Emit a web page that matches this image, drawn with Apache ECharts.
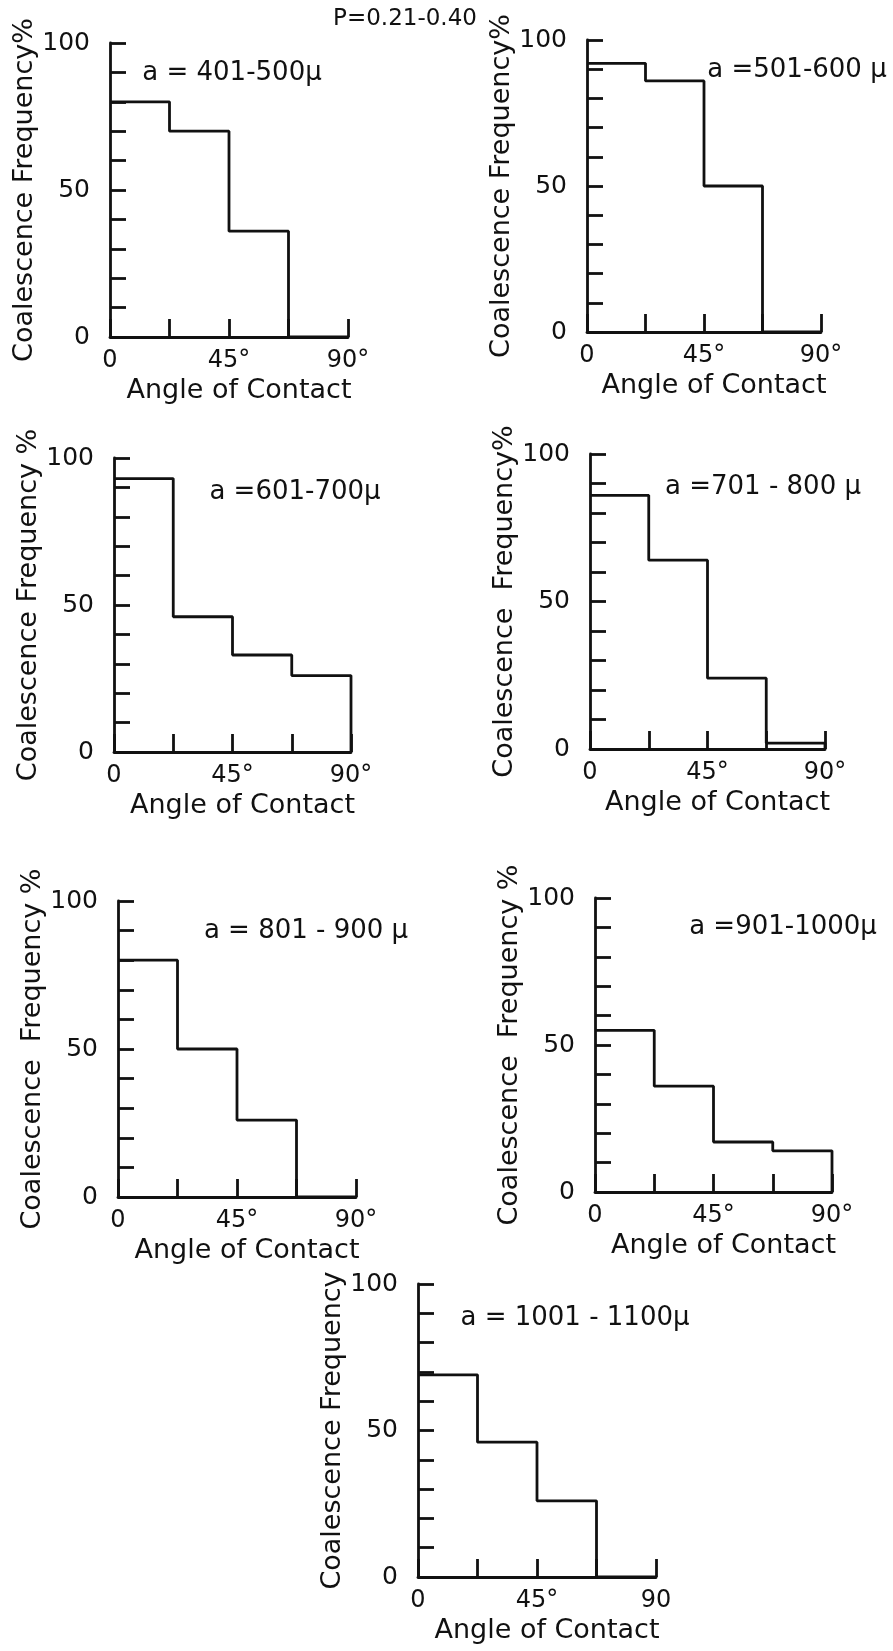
<!DOCTYPE html>
<html>
<head>
<meta charset="utf-8">
<script src="https://cdn.jsdelivr.net/npm/echarts@6/dist/echarts.min.js"></script>
<style>
  html, body { margin: 0; padding: 0; background: #fff; }
  #chart { width: 893px; height: 1651px; }
</style>
</head>
<body>
<div id="chart"></div>
<script>
// Coalescence frequency vs angle of contact, P = 0.21-0.40
const binEdges = [0, 22.5, 45, 67.5, 90]
const yTickLabels = { 0: '0', 50: '50', 100: '100' }
const xTickLabels = { 0: '0', 45: '45°', 90: '90°' }
const xTickLabelsLast = { 0: '0', 45: '45°', 90: '90' }

const sizeRanges = [
  'a = 401-500μ',
  'a =501-600 μ',
  'a =601-700μ',
  'a =701 - 800 μ',
  'a = 801 - 900 μ',
  'a =901-1000μ',
  'a = 1001 - 1100μ'
]
const yNames = [
  'Coalescence Frequency%',
  'Coalescence Frequency%',
  'Coalescence Frequency %',
  'Coalescence  Frequency%',
  'Coalescence  Frequency %',
  'Coalescence  Frequency %',
  'Coalescence Frequency'
]

// frequency (%) in each 22.5° bin
const freq401 = [80, 70, 36, 0]
const freq501 = [92, 86, 50, 0]
const freq601 = [93, 46, 33, 26]
const freq701 = [86, 64, 24, 2]
const freq801 = [80, 50, 26, 0]
const freq901 = [55, 36, 17, 14]
const freq1001 = [69, 46, 26, 0]

const allFreq = [freq401, freq501, freq601, freq701, freq801, freq901, freq1001]

// panel boxes (pixels): left, top, width, height
const boxes = [
  [110, 43, 238, 294],
  [587, 40, 234, 292],
  [114, 458, 237, 294],
  [590, 454, 235, 295],
  [118, 901, 238, 296],
  [595, 898, 237, 294],
  [418, 1284, 238, 293]
]
const nameGaps = [67, 71, 64, 65, 65, 39, 38]
const notePos = [[232, 73], [797, 70], [295, 492], [763, 487], [306, 931], [783, 927], [575, 1318]]

const font = 'DejaVu Sans'
const ink = '#111'

// turn bin values into a step outline
function stepData(vals) {
  const pts = vals.map((v, i) => [binEdges[i], v])
  pts.push([binEdges[binEdges.length - 1], 0])
  return pts
}

const grid = [], xAxis = [], yAxis = [], series = [], graphic = []

boxes.forEach((b, i) => {
  grid.push({ left: b[0], top: b[1], width: b[2], height: b[3] })
  const xl = i === 6 ? xTickLabelsLast : xTickLabels
  xAxis.push({
    gridIndex: i,
    type: 'value',
    min: 0,
    max: 90,
    interval: 22.5,
    name: 'Angle of Contact',
    nameLocation: 'middle',
    nameGap: 40,
    nameTextStyle: { fontFamily: font, fontSize: 27, color: ink, padding: [0, 0, 0, 20] },
    axisLine: { show: true, lineStyle: { color: ink, width: 2.8 } },
    axisTick: { show: true, inside: true, length: 18, lineStyle: { color: ink, width: 2.8 } },
    axisLabel: {
      margin: 12,
      fontFamily: font,
      fontSize: 24,
      color: ink,
      formatter: v => xl[v] || ''
    },
    splitLine: { show: false }
  })
  yAxis.push({
    gridIndex: i,
    type: 'value',
    min: 0,
    max: 100,
    interval: 10,
    name: yNames[i],
    nameLocation: 'middle',
    nameGap: nameGaps[i],
    nameTextStyle: { fontFamily: font, fontSize: 27, color: ink },
    axisLine: { show: true, lineStyle: { color: ink, width: 2.8 } },
    axisTick: { show: true, inside: true, length: 16, lineStyle: { color: ink, width: 2.8 } },
    axisLabel: {
      margin: 20,
      fontFamily: font,
      fontSize: 25,
      color: ink,
      formatter: v => yTickLabels[v] || ''
    },
    splitLine: { show: false }
  })
  series.push({
    type: 'line',
    xAxisIndex: i,
    yAxisIndex: i,
    step: 'end',
    clip: false,
    showSymbol: false,
    silent: true,
    data: stepData(allFreq[i]),
    lineStyle: { color: ink, width: 2.8 }
  })
  graphic.push({
    type: 'text',
    x: notePos[i][0],
    y: notePos[i][1],
    style: {
      text: sizeRanges[i],
      fontFamily: font,
      fontSize: 26,
      fill: ink,
      align: 'center',
      verticalAlign: 'middle'
    }
  })
})

graphic.push({
  type: 'text',
  x: 405,
  y: 19,
  style: {
    text: 'P=0.21-0.40',
    fontFamily: font,
    fontSize: 23,
    fill: ink,
    align: 'center',
    verticalAlign: 'middle'
  }
})

const chart = echarts.init(document.getElementById('chart'))
chart.setOption({
  backgroundColor: '#fff',
  animation: false,
  grid,
  xAxis,
  yAxis,
  series,
  graphic
})
</script>
</body>
</html>
